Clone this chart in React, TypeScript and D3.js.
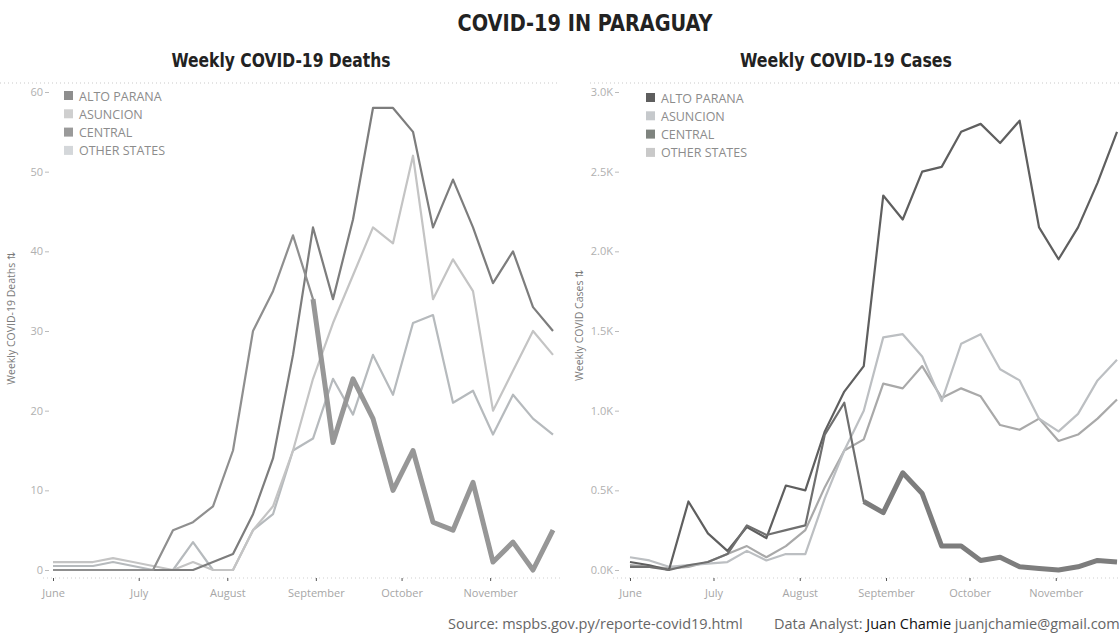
import React, { useEffect, useRef } from 'react';
import * as d3 from 'd3';

// weekly data, Paraguay, 2020
const weeks = [
  '2020-06-01', '2020-06-08', '2020-06-15', '2020-06-22', '2020-06-29',
  '2020-07-06', '2020-07-13', '2020-07-20', '2020-07-27', '2020-08-03',
  '2020-08-10', '2020-08-17', '2020-08-24', '2020-08-31', '2020-09-07',
  '2020-09-14', '2020-09-21', '2020-09-28', '2020-10-05', '2020-10-12',
  '2020-10-19', '2020-10-26', '2020-11-02', '2020-11-09', '2020-11-16',
  '2020-11-23',
];
const monthTicks = ['2020-06-01', '2020-07-01', '2020-08-01', '2020-09-01', '2020-10-01', '2020-11-01'];
const regions = ['ALTO PARANA', 'ASUNCION', 'CENTRAL', 'OTHER STATES'];

const deathsAltoParana = [0, 0, 0, 0, 0, 0, 5, 6, 8, 15, 30, 35, 42, 34, 16, 24, 19, 10, 15, 6, 5, 11, 1, 3.5, 0, 5];
const deathsAsuncion = [1, 1, 1, 1.5, 1, 0.5, 0, 1, 0, 0, 5, 8, 15, 24, 31, 37, 43, 41, 52, 34, 39, 35, 20, 25, 30, 27];
const deathsCentral = [0, 0, 0, 0, 0, 0, 0, 0, 1, 2, 7, 14, 27, 43, 34, 44, 58, 58, 55, 43, 49, 43, 36, 40, 33, 30];
const deathsOther = [0.5, 0.5, 0.5, 1, 0.5, 0, 0, 3.5, 0, 0, 5, 7, 15, 16.5, 24, 19.5, 27, 22, 31, 32, 21, 22.5, 17, 22, 19, 17];

const casesAltoParana = [20, 20, 0, 30, 50, 100, 280, 220, 250, 280, 850, 1050, 430, 360, 610, 480, 150, 150, 60, 80, 20, 10, 0, 20, 60, 50];
const casesAsuncion = [80, 60, 20, 30, 40, 50, 120, 60, 100, 100, 450, 750, 1000, 1460, 1480, 1340, 1060, 1420, 1480, 1260, 1190, 950, 870, 980, 1190, 1320];
const casesCentral = [50, 30, 0, 430, 230, 120, 270, 200, 530, 500, 870, 1120, 1280, 2350, 2200, 2500, 2530, 2750, 2800, 2680, 2820, 2150, 1950, 2150, 2430, 2750];
const casesOther = [30, 20, 10, 20, 50, 100, 150, 80, 150, 250, 520, 750, 820, 1170, 1140, 1280, 1080, 1140, 1090, 910, 880, 950, 810, 850, 950, 1070];

const deathTicks = [0, 10, 20, 30, 40, 50, 60];
const caseTicks = [0, 500, 1000, 1500, 2000, 2500, 3000];

const parse = d3.timeParse('%Y-%m-%d');
const FONT = "'Open Sans', 'DejaVu Sans', sans-serif";
const TITLE_FONT = "'Liberation Sans Narrow', 'DejaVu Sans Condensed', 'Liberation Sans', sans-serif";

const drawPanel = (svg, p) => {
  const dates = weeks.map(parse);
  const x = d3.scaleTime().domain([dates[0], dates[dates.length - 1]]).range([p.x0, p.x1]);
  const y = d3.scaleLinear().domain([0, p.yMax]).range([570, 92]);
  const g = svg.append('g');

  // pane border (top) and dotted baseline
  g.append('line').attr('x1', p.left).attr('x2', p.right).attr('y1', 83).attr('y2', 83)
    .attr('stroke', '#c9c9c9').attr('stroke-dasharray', '1,3');
  g.append('line').attr('x1', p.axisX - 6).attr('x2', p.right).attr('y1', 578).attr('y2', 578)
    .attr('stroke', '#cfcfcf').attr('stroke-dasharray', '1,3');

  const xa = g.append('g').attr('transform', 'translate(0,578)')
    .call(d3.axisBottom(x).tickValues(monthTicks.map(parse)).tickFormat(d3.timeFormat('%B')).tickSize(3).tickPadding(8));
  xa.select('.domain').remove();
  xa.selectAll('line').attr('stroke', '#555');
  xa.selectAll('text').attr('fill', '#a6a6a6').style('font-size', '11px').style('font-family', FONT);

  const ya = g.append('g').attr('transform', `translate(${p.axisX},0)`)
    .call(d3.axisLeft(y).tickValues(p.ticks).tickFormat(p.fmt).tickSize(4).tickPadding(2));
  ya.select('.domain').remove();
  ya.selectAll('line').attr('stroke', '#bbb');
  ya.selectAll('text').attr('fill', '#b0b0b0').style('font-size', '11px').style('font-family', FONT);

  g.append('text')
    .attr('transform', `translate(${p.titleX},${p.titleY}) rotate(-90)`)
    .attr('text-anchor', 'middle')
    .attr('fill', '#7a7a7a')
    .style('font-size', '10.5px').style('font-family', FONT)
    .text(p.yTitle + ' \u21C5');

  const line = d3.line().x((d, i) => x(dates[i])).y(d => y(d));

  p.order.forEach(idx => {
    const s = p.series[idx];
    g.append('path').attr('d', line(s)).attr('fill', 'none')
      .attr('stroke', p.colors[idx]).attr('stroke-width', 2.2).attr('stroke-linejoin', 'round');
  });

  // Alto Parana drawn heavier after its peak
  const ap = p.series[0];
  const peak = d3.maxIndex(ap);
  const tail = d3.line().x((d) => x(dates[d[0]])).y(d => y(d[1]));
  g.append('path').attr('d', tail(ap.map((v, i) => [i, v]).slice(peak + 1)))
    .attr('fill', 'none').attr('stroke', p.thickColor).attr('stroke-width', 5).attr('stroke-linejoin', 'round');

  const lg = g.append('g').attr('transform', `translate(${p.legendX},${p.legendY})`);
  regions.forEach((r, i) => {
    lg.append('rect').attr('x', 0).attr('y', i * 18.3 - 5).attr('width', 9).attr('height', 9).attr('fill', p.legendColors[i]);
    lg.append('text').attr('x', 15).attr('y', i * 18.3 + 4.5).attr('fill', '#8c8c8c')
      .style('font-size', '12.5px').style('font-family', FONT).text(r);
  });

  svg.append('text').attr('x', p.subX).attr('y', 67).attr('text-anchor', 'middle')
    .attr('textLength', p.subLen).attr('lengthAdjust', 'spacingAndGlyphs')
    .attr('fill', '#222').style('font-size', '19px').style('font-weight', 'bold').style('font-family', TITLE_FONT)
    .text(p.subtitle);
};

export default function App() {
  const ref = useRef(null);

  useEffect(() => {
    const svg = d3.select(ref.current);
    svg.selectAll('*').remove();

    svg.append('text').attr('x', 585).attr('y', 31).attr('text-anchor', 'middle')
      .attr('textLength', 255).attr('lengthAdjust', 'spacingAndGlyphs')
      .attr('fill', '#222').style('font-size', '23px').style('font-weight', 'bold').style('font-family', TITLE_FONT)
      .text('COVID-19 IN PARAGUAY');

    drawPanel(svg, {
      x0: 53, x1: 553, left: 0, right: 560, axisX: 49, yMax: 60,
      ticks: deathTicks, fmt: d3.format('d'),
      series: [deathsAltoParana, deathsAsuncion, deathsCentral, deathsOther],
      colors: ['#8f8f8f', '#c4c4c4', '#7d7d7d', '#b6babd'],
      order: [3, 1, 2, 0], thickColor: '#979797',
      legendColors: ['#8e8e8e', '#cfcfcf', '#9a9a9a', '#d4d7da'],
      legendX: 64, legendY: 96,
      titleX: 15, titleY: 318, yTitle: 'Weekly COVID-19 Deaths',
      subX: 281, subLen: 219, subtitle: 'Weekly COVID-19 Deaths',
    });

    drawPanel(svg, {
      x0: 630, x1: 1117, left: 590, right: 1120, axisX: 619, yMax: 3000,
      ticks: caseTicks, fmt: d => (d / 1000).toFixed(1) + 'K',
      series: [casesAltoParana, casesAsuncion, casesCentral, casesOther],
      colors: ['#6f6f6f', '#bcbfc2', '#5f5f5f', '#a9a9a9'],
      order: [3, 1, 2, 0], thickColor: '#7d7d7d',
      legendColors: ['#5e5e5e', '#c6c9cc', '#7f847f', '#c9c9c9'],
      legendX: 646, legendY: 98,
      titleX: 583, titleY: 325, yTitle: 'Weekly COVID Cases',
      subX: 846, subLen: 212, subtitle: 'Weekly COVID-19 Cases',
    });

    const foot = svg.append('text').attr('y', 629).attr('fill', '#666')
      .style('font-size', '14.5px').style('font-family', FONT);
    foot.append('tspan').attr('x', 448).text('Source:  mspbs.gov.py/reporte-covid19.html');
    foot.append('tspan').attr('x', 774).text('Data Analyst:  ');
    foot.append('tspan').attr('fill', '#111').text('Juan Chamie');
    foot.append('tspan').text('  juanjchamie@gmail.com');
  }, []);

  return (
    <div style={{ position: 'absolute', left: 0, top: 0 }}>
      <svg ref={ref} width={1120} height={639} style={{ display: 'block', background: '#fff' }} />
    </div>
  );
}
